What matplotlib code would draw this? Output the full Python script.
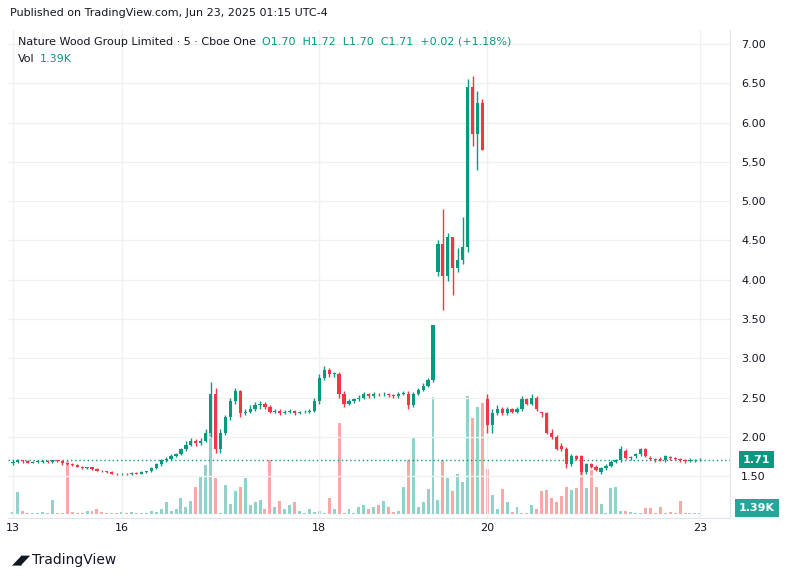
import numpy as np
import matplotlib
matplotlib.use('Agg')
import matplotlib.pyplot as plt

opens = [1.66,1.68,1.70,1.69,1.67,1.68,1.68,1.69,1.68,1.70,
         1.69,1.66,1.65,1.64,1.62,1.60,1.61,1.59,1.57,1.56,
         1.55,1.53,1.52,1.53,1.52,1.54,1.53,1.55,1.56,1.60,
         1.65,1.70,1.72,1.76,1.78,1.84,1.90,1.95,1.92,1.95,
         2.05,2.55,1.85,2.05,2.25,2.45,2.58,2.30,2.32,2.35,
         2.40,2.42,2.38,2.32,2.33,2.30,2.32,2.33,2.30,2.31,
         2.32,2.33,2.45,2.75,2.85,2.80,2.80,2.55,2.42,2.45,
         2.48,2.50,2.55,2.52,2.55,2.54,2.55,2.53,2.52,2.55,
         2.55,2.40,2.55,2.60,2.65,2.72,4.10,4.45,4.05,4.55,
         4.15,4.25,4.42,6.45,5.85,6.25,2.48,2.15,2.30,2.35,
         2.30,2.36,2.32,2.35,2.48,2.42,2.50,2.32,2.30,2.05,
         2.00,1.88,1.85,1.65,1.75,1.75,1.55,1.65,1.62,1.55,
         1.60,1.63,1.68,1.70,1.82,1.73,1.75,1.78,1.84,1.73,
         1.72,1.72,1.70,1.74,1.73,1.72,1.70,1.69,1.70,1.70]
closes = [1.68,1.70,1.69,1.67,1.68,1.68,1.69,1.68,1.70,1.69,
          1.66,1.65,1.64,1.62,1.60,1.61,1.59,1.57,1.56,1.55,
          1.53,1.52,1.53,1.52,1.54,1.53,1.55,1.56,1.60,1.65,
          1.70,1.72,1.76,1.78,1.84,1.90,1.95,1.92,1.95,2.05,
          2.55,1.85,2.05,2.25,2.45,2.58,2.30,2.32,2.35,2.40,
          2.42,2.38,2.32,2.33,2.30,2.32,2.33,2.30,2.31,2.32,
          2.33,2.45,2.75,2.85,2.80,2.80,2.55,2.42,2.45,2.48,
          2.50,2.55,2.52,2.55,2.54,2.55,2.53,2.52,2.55,2.55,
          2.40,2.55,2.60,2.65,2.72,3.42,4.45,4.05,4.55,4.15,
          4.25,4.42,6.45,5.85,6.25,5.65,2.15,2.30,2.35,2.30,
          2.36,2.32,2.35,2.48,2.42,2.50,2.35,2.30,2.05,2.00,
          1.85,1.85,1.65,1.75,1.72,1.55,1.65,1.62,1.58,1.60,
          1.63,1.68,1.70,1.85,1.73,1.74,1.78,1.84,1.75,1.72,
          1.70,1.71,1.75,1.73,1.72,1.70,1.69,1.71,1.70,1.71]
highs = [1.70,1.72,1.71,1.70,1.69,1.70,1.70,1.70,1.71,1.71,
         1.70,1.67,1.66,1.65,1.63,1.62,1.62,1.60,1.58,1.57,
         1.56,1.54,1.54,1.54,1.55,1.55,1.56,1.57,1.62,1.67,
         1.72,1.74,1.78,1.80,1.86,1.95,1.98,1.97,1.98,2.10,
         2.70,2.62,2.10,2.28,2.50,2.62,2.60,2.36,2.40,2.44,
         2.45,2.44,2.40,2.35,2.35,2.34,2.35,2.34,2.33,2.34,
         2.36,2.50,2.80,2.90,2.88,2.82,2.82,2.58,2.48,2.50,
         2.53,2.57,2.56,2.57,2.56,2.57,2.56,2.55,2.57,2.58,
         2.58,2.57,2.62,2.68,2.75,3.42,4.50,4.90,4.60,4.55,
         4.40,4.80,6.55,6.60,6.40,6.30,2.55,2.35,2.40,2.38,
         2.38,2.37,2.38,2.52,2.50,2.55,2.52,2.32,2.32,2.10,
         2.02,1.92,1.87,1.78,1.77,1.77,1.67,1.67,1.64,1.62,
         1.65,1.70,1.72,1.88,1.84,1.76,1.80,1.86,1.86,1.75,
         1.73,1.74,1.77,1.76,1.74,1.73,1.72,1.73,1.72,1.73]
lows = [1.64,1.66,1.67,1.66,1.66,1.67,1.67,1.67,1.67,1.68,
        1.64,1.64,1.63,1.61,1.59,1.59,1.58,1.56,1.55,1.54,
        1.52,1.51,1.51,1.51,1.51,1.52,1.52,1.54,1.55,1.59,
        1.63,1.68,1.71,1.74,1.77,1.82,1.88,1.88,1.90,1.93,
        2.00,1.80,1.80,2.02,2.22,2.42,2.25,2.28,2.30,2.33,
        2.36,2.35,2.30,2.30,2.28,2.29,2.30,2.28,2.29,2.30,
        2.30,2.31,2.42,2.72,2.76,2.76,2.50,2.38,2.40,2.43,
        2.46,2.48,2.50,2.50,2.52,2.52,2.51,2.50,2.50,2.53,
        2.36,2.38,2.53,2.58,2.63,2.70,4.05,3.62,3.98,3.80,
        4.10,4.20,4.35,5.70,5.40,5.65,2.05,2.05,2.28,2.28,
        2.28,2.30,2.30,2.33,2.40,2.40,2.33,2.25,2.03,1.97,
        1.83,1.82,1.60,1.63,1.70,1.53,1.53,1.60,1.56,1.53,
        1.58,1.62,1.66,1.68,1.72,1.71,1.73,1.76,1.74,1.70,
        1.68,1.69,1.68,1.71,1.70,1.68,1.66,1.68,1.68,1.69]
volumes = [0.3,2.4,0.4,0.2,0.1,0.1,0.3,0.2,1.6,0.2,
           0.1,5.8,0.3,0.2,0.2,0.4,0.4,0.6,0.3,0.2,
           0.1,0.2,0.3,0.2,0.3,0.2,0.1,0.2,0.4,0.3,
           0.6,1.3,0.4,0.6,1.8,0.8,1.5,3.0,4.1,5.4,
           13.0,4.0,0.2,3.2,1.1,2.5,3.0,4.0,1.0,1.4,
           1.6,0.6,6.0,0.8,1.5,0.6,1.0,1.3,0.4,0.2,
           0.6,0.3,0.4,0.2,1.8,0.6,10.0,0.2,0.6,0.2,
           0.8,1.0,0.6,0.8,1.0,1.5,0.8,0.3,0.4,3.0,
           6.0,8.5,0.8,1.3,2.8,12.8,1.6,6.0,4.0,2.5,
           4.4,3.5,13.0,10.5,11.7,12.2,5.0,2.1,0.6,2.8,
           1.3,0.3,0.8,0.2,0.2,1.0,0.6,2.5,2.7,1.8,
           1.3,2.0,3.0,2.7,2.9,5.4,2.9,4.8,3.0,1.1,
           0.2,2.9,3.0,0.4,0.4,0.3,0.2,0.1,0.7,0.7,
           0.2,0.8,0.2,0.3,0.1,1.5,0.2,0.1,0.1,0.2]
day_ticks = [0, 22, 62, 96, 139]
day_labels = ['13', '16', '18', '20', '23']
price_ticks = [1.5, 2.0, 2.5, 3.0, 3.5, 4.0, 4.5, 5.0, 5.5, 6.0, 6.5, 7.0]
last_price = 1.71

GREEN = '#089981'
RED = '#f23645'
VGREEN = '#93d2ca'
VRED = '#f7a9a7'

o = np.array(opens); c = np.array(closes)
h = np.array(highs); l = np.array(lows)
x = np.arange(len(o))
up = c >= o

fig = plt.figure(figsize=(7.98, 5.78), dpi=100)
ax = fig.add_axes([8/798, 60/578, 722/798, 488/578])
vax = ax.twinx()

# volume
vax.bar(x, volumes, width=0.6, color=np.where(up, VGREEN, VRED), zorder=1)
vax.set_ylim(-0.4, 53)
vax.axis('off')
ax.set_zorder(vax.get_zorder() + 1)
ax.patch.set_visible(False)

# candles
for i in x:
    col = GREEN if up[i] else RED
    ax.vlines(i, l[i], h[i], color=col, lw=1, zorder=3)
    bot = min(o[i], c[i]); ht = max(abs(c[i] - o[i]), 0.008)
    ax.bar(i, ht, bottom=bot, width=0.65, color=col, zorder=4)

ax.axhline(last_price, color=GREEN, lw=1, ls=(0, (1, 2)), zorder=2)

ax.set_xlim(-1, 145.1)
ax.set_ylim(0.966, 7.18)
ax.set_yticks(price_ticks)
ax.set_xticks(day_ticks)
ax.set_xticklabels(day_labels)
ax.yaxis.tick_right()
ax.set_yticklabels(['%.2f' % p for p in price_ticks])
ax.tick_params(length=0, labelsize=8, colors='#131722')
ax.tick_params(axis='y', pad=8)
ax.grid(True, color='#f0f0f0', lw=1)
for s in ax.spines.values():
    s.set_visible(False)
for s in ['bottom', 'right']:
    ax.spines[s].set_visible(True)
    ax.spines[s].set_color('#e0e3eb')

# labels on the right axis
ax.text(1.037, last_price, '1.71', transform=ax.get_yaxis_transform(), ha='center', va='center',
        fontsize=8, color='white', fontweight='bold',
        bbox=dict(boxstyle='square,pad=0.35', fc=GREEN, ec='none'))
ax.text(1.037, 0.02, '1.39K', transform=ax.transAxes, ha='center', va='center',
        fontsize=8, color='white', fontweight='bold',
        bbox=dict(boxstyle='square,pad=0.35', fc='#26a69a', ec='none'))

fig.text(10/798, 1 - 13/578, 'Published on TradingView.com, Jun 23, 2025 01:15 UTC-4',
         fontsize=8, color='#131722', va='center')
fig.text(18/798, 1 - 42/578, 'Nature Wood Group Limited · 5 · Cboe One', fontsize=8, color='#131722', va='center')
fig.text(262/798, 1 - 42/578, 'O1.70  H1.72  L1.70  C1.71  +0.02 (+1.18%)', fontsize=8, color=GREEN, va='center')
fig.text(18/798, 1 - 59/578, 'Vol', fontsize=8, color='#131722', va='center')
fig.text(40/798, 1 - 59/578, '1.39K', fontsize=8, color=GREEN, va='center')
fig.text(12/798, 1 - 560/578, '◢◤', fontsize=9, color='#131722', va='center')
fig.text(32/798, 1 - 560/578, 'TradingView', fontsize=10, color='#131722', va='center')

plt.savefig('out.png', dpi=100)
